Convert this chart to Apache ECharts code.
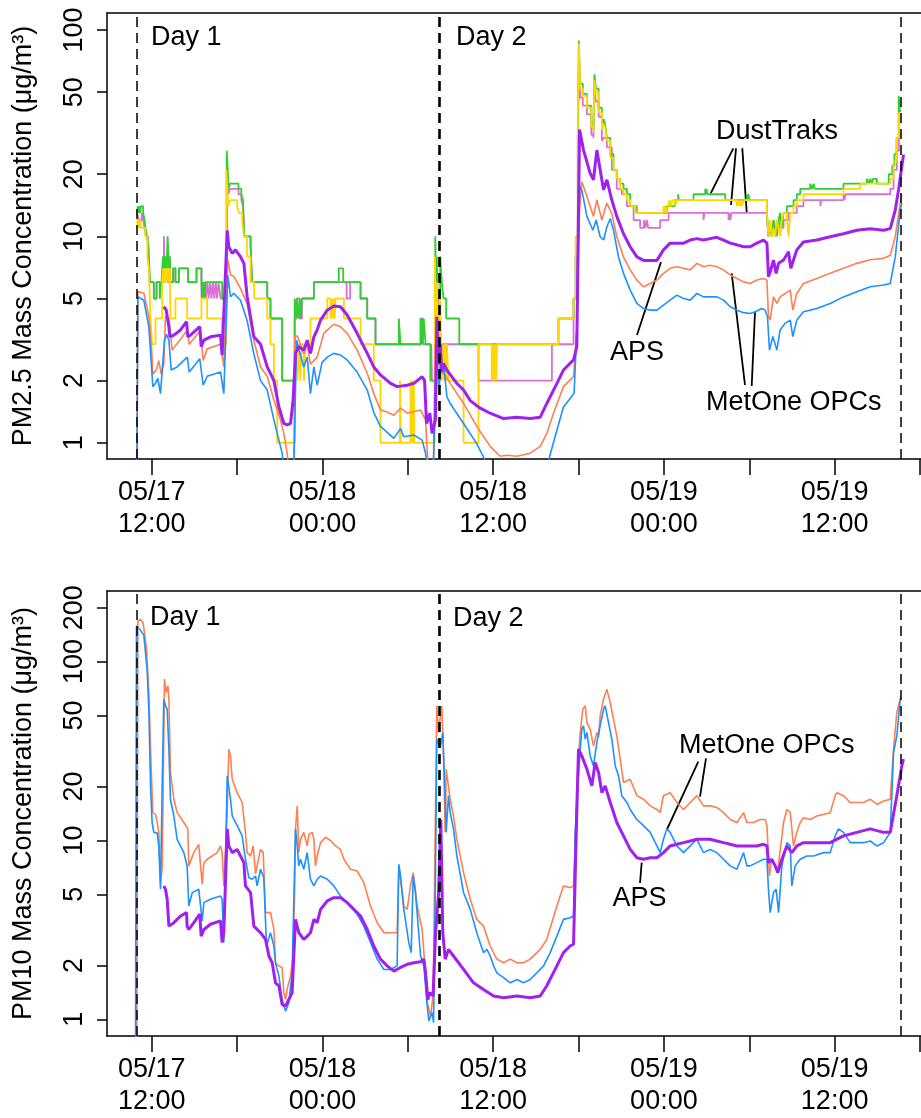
<!DOCTYPE html>
<html><head><meta charset="utf-8">
<script src="https://cdn.jsdelivr.net/npm/echarts@6/dist/echarts.min.js"></script>
<style>html,body{margin:0;padding:0;background:#fff}#c{width:921px;height:1118px}</style>
</head><body><div id="c"></div>
<script>
// x values: hours since 05/17 00:00
const xTickHours = [12,18,24,30,36,42,48,54,60,66];
const xLabelHours = [12,24,36,48,60];
const xLabelText = ['05/17\n12:00','05/18\n00:00','05/18\n12:00','05/19\n00:00','05/19\n12:00'];
const pm25Ticks = [1,2,5,10,20,50,100];
const pm10Ticks = [1,2,5,10,20,50,100,200];
const dayLines = [10.94, 32.23, 64.65];

// ---------- PM2.5 ----------
const pm25Blue = [[10.95,0.5],[11.03,5.1],[11.14,5.2],[11.45,4.9],[11.80,3.65],[11.99,2.33],[12.08,1.87],[12.27,1.94],[12.43,2.05],[12.62,1.73],[12.74,1.70],[12.90,3.14],[13.04,3.35],[13.21,3.14],[13.37,2.25],[13.79,2.33],[14.50,2.6],[14.64,2.2],[15.38,2.55],[15.62,1.9],[15.90,2.1],[16.84,2.2],[17.07,1.73],[17.35,6.5],[17.54,5.1],[17.77,5.3],[18.24,4.9],[18.71,3.9],[19.18,2.7],[19.65,2.0],[20.12,1.8],[20.59,1.29],[20.82,1.11],[21.17,0.89],[21.29,0.75],[21.99,0.75],[22.18,3.14],[22.69,2.33],[22.93,2.6],[23.16,1.73],[23.40,2.33],[23.63,1.9],[23.98,2.45],[24.34,2.6],[24.80,2.71],[25.27,2.66],[25.74,2.52],[26.44,2.2],[27.15,1.8],[27.61,1.4],[28.08,1.2],[29.02,1.05],[29.49,1.17],[29.72,1.07],[30.43,1.09],[31.01,1.03],[31.25,0.89],[31.37,0.75],[31.80,0.75],[31.95,2.0],[32.05,2.6],[32.20,1.8],[32.30,2.3],[32.51,2.42],[32.75,1.67],[32.98,1.55],[33.92,1.24],[34.85,0.99],[35.44,0.82],[35.6,0.75],[39.77,0.75],[39.89,0.82],[40.48,1.15],[40.94,1.49],[41.41,1.64],[41.69,1.74],[41.88,3.52],[42.00,10.7],[42.07,17.4],[42.23,16.8],[42.59,12.5],[43.01,10.7],[43.24,12.0],[43.52,9.96],[43.76,9.6],[43.99,11.1],[44.23,12.2],[44.46,10.7],[44.81,7.95],[45.16,6.62],[45.63,5.49],[46.10,4.73],[46.57,4.47],[47.04,4.39],[47.51,4.39],[47.97,4.64],[48.44,4.91],[48.91,5.19],[49.38,5.0],[49.85,4.91],[50.32,5.29],[50.78,5.09],[51.25,5.09],[51.72,5.09],[52.19,4.91],[52.66,4.56],[53.13,4.39],[53.60,4.27],[54.06,4.23],[54.42,4.31],[54.88,4.47],[55.12,4.39],[55.28,4.08],[55.42,2.81],[55.66,3.27],[55.94,2.81],[56.17,3.52],[56.52,3.79],[56.88,3.93],[57.06,3.27],[57.34,3.93],[57.81,4.31],[58.28,4.39],[58.75,4.47],[59.69,4.73],[60.62,5.09],[61.56,5.39],[62.50,5.70],[63.44,5.81],[63.91,5.91],[64.26,7.95],[64.61,13.4],[64.72,14.5]];

const pm25Coral = [[10.95,0.5],[11.03,5.4],[11.10,5.45],[11.45,5.3],[11.80,4.1],[11.99,2.9],[12.08,2.15],[12.32,2.25],[12.50,2.5],[12.67,2.15],[12.85,2.4],[12.97,4.1],[13.21,4.0],[13.44,2.81],[14.49,3.5],[14.64,3.0],[15.43,3.5],[15.62,2.5],[15.90,2.85],[16.84,3.0],[17.07,2.33],[17.35,7.7],[17.54,6.5],[17.77,6.4],[18.24,5.6],[18.71,4.7],[19.18,3.14],[19.65,2.33],[20.12,2.1],[20.59,1.61],[21.05,1.29],[21.29,1.11],[21.52,0.89],[21.64,0.75],[22.00,0.75],[22.06,3.25],[22.23,3.3],[22.69,2.7],[22.93,3.0],[23.16,2.4],[23.63,2.6],[24.10,3.4],[24.80,3.75],[25.27,3.65],[25.74,3.39],[26.44,2.81],[27.15,2.17],[27.61,1.73],[28.08,1.44],[28.55,1.41],[29.02,1.36],[29.49,1.47],[29.96,1.39],[30.90,1.44],[31.25,1.29],[31.37,0.89],[31.48,0.75],[31.80,0.75],[31.93,3.0],[32.10,2.6],[32.30,2.2],[32.51,2.17],[32.98,1.94],[33.92,1.55],[34.85,1.2],[35.79,0.96],[36.49,0.86],[36.96,0.87],[37.67,0.86],[38.60,0.89],[39.31,0.96],[39.77,1.11],[40.24,1.39],[40.94,1.87],[41.65,2.09],[41.88,3.52],[42.07,13.4],[42.23,18.4],[42.59,15.6],[43.05,12.5],[43.29,15.0],[43.64,12.0],[43.99,14.5],[44.34,12.9],[44.69,9.96],[45.16,7.95],[45.63,6.88],[46.10,6.14],[46.57,5.70],[47.04,5.91],[47.51,6.14],[47.97,6.62],[48.44,7.0],[48.91,7.13],[49.38,7.0],[49.85,6.88],[50.32,7.4],[50.78,7.13],[51.25,7.25],[51.72,7.13],[52.19,6.88],[52.66,6.5],[53.13,6.25],[53.60,6.02],[54.06,5.91],[54.53,6.14],[55.00,6.25],[55.24,6.14],[55.35,4.08],[55.47,3.93],[55.70,5.09],[55.94,4.73],[56.17,5.09],[56.88,5.49],[57.06,4.39],[57.34,5.29],[57.81,5.91],[58.75,6.25],[59.69,6.62],[60.62,7.0],[61.56,7.4],[62.50,7.7],[63.44,7.83],[63.91,8.1],[64.26,9.96],[64.61,14.5],[64.72,16]];

const pm25Aps = [[12.85,4.56],[13.02,4.4],[13.21,3.65],[13.28,3.26],[13.56,3.32],[14.03,3.52],[14.45,3.86],[14.54,3.26],[14.73,3.32],[15.38,3.65],[15.48,2.92],[15.67,3.14],[16.13,3.26],[16.84,3.32],[16.95,2.66],[17.07,2.71],[17.31,10.7],[17.42,8.91],[17.66,8.27],[17.89,8.6],[18.24,7.97],[18.48,7.4],[18.71,5.1],[19.18,3.26],[19.65,3.0],[20.12,2.33],[20.59,2.0],[20.94,1.49],[21.29,1.24],[21.52,1.22],[21.76,1.24],[21.94,1.61],[22.11,2.71],[22.34,2.92],[22.69,2.81],[22.93,3.14],[23.16,2.71],[23.40,3.26],[23.63,3.52],[23.87,3.93],[24.34,4.39],[24.80,4.6],[25.27,4.56],[25.74,4.16],[26.44,3.39],[27.15,2.71],[27.61,2.33],[28.08,2.13],[28.79,1.94],[29.25,1.87],[29.96,1.90],[30.43,1.94],[31.01,2.09],[31.18,2.0],[31.32,1.24],[31.55,1.39],[31.71,1.11],[31.95,1.3],[32.04,4.08],[32.16,2.4],[32.28,3.0],[32.39,2.2],[32.51,2.42],[32.75,2.25],[33.45,1.94],[33.92,1.8],[34.39,1.6],[35.09,1.47],[35.79,1.39],[36.73,1.31],[37.67,1.33],[38.60,1.31],[39.31,1.33],[39.77,1.55],[40.48,1.94],[40.94,2.25],[41.65,2.52],[41.88,2.92],[42.07,32.9],[42.16,30.6],[42.35,26.2],[42.82,20.2],[43.05,18.8],[43.29,26.2],[43.52,21.0],[43.76,16.8],[43.99,18.8],[44.34,15.0],[44.69,12.5],[45.16,10.3],[45.63,8.91],[46.10,7.95],[46.57,7.65],[47.04,7.65],[47.51,7.65],[47.97,8.6],[48.44,9.27],[48.91,9.27],[49.38,9.27],[49.85,9.6],[50.32,9.75],[50.78,9.6],[51.25,9.75],[51.72,9.9],[52.19,9.6],[52.66,9.27],[53.13,9.1],[53.60,8.91],[54.06,8.91],[54.53,9.27],[55.00,9.6],[55.24,9.27],[55.35,6.38],[55.51,6.87],[55.70,7.68],[55.89,6.62],[56.06,7.4],[56.41,7.68],[56.76,8.43],[56.92,7.0],[57.11,7.68],[57.34,8.6],[57.81,9.4],[58.75,9.6],[59.69,9.96],[60.62,10.3],[61.56,10.7],[62.50,10.9],[63.44,10.7],[63.91,10.9],[64.26,13.4],[64.49,16.8],[64.84,24.9]];

// DustTraks (held steps)
const pm25Green = [[10.98,13],[11.03,14],[11.08,13],[11.13,14],[11.20,13],[11.25,14],[11.40,13],[11.50,12],[11.57,11],[11.66,10],[11.78,9],[11.88,6],[12.15,5],[12.34,6],[12.57,5],[12.69,6],[12.74,7],[12.80,8],[12.85,6],[12.90,8],[12.95,7],[13.00,8],[13.05,7],[13.12,10],[13.18,8],[13.22,7],[13.28,8],[13.32,6],[13.51,7],[13.67,6],[13.91,7],[14.56,6],[15.15,7],[15.50,6],[15.55,5],[15.59,6],[15.63,5],[15.67,6],[15.72,5],[15.76,6],[16.95,5],[17.28,26],[17.40,17],[17.50,18],[18.10,17],[18.30,16],[18.42,15],[18.50,10],[18.95,9],[19.06,6],[20.12,5],[20.35,4],[21.17,2],[22.05,5],[22.12,4],[22.20,5],[22.30,4],[22.40,5],[22.50,4],[22.56,5],[23.40,6],[25.15,7],[25.46,6],[26.68,5],[27.15,4],[27.73,3],[29.37,4],[29.49,3],[30.90,4],[30.95,3],[31.00,4],[31.05,3],[31.12,4],[31.25,3],[31.60,2],[31.93,10],[32.00,5],[32.04,8],[32.10,5],[32.28,8],[32.39,6],[32.51,5],[32.70,4],[33.62,3],[40.59,4],[41.65,5],[41.80,8],[41.95,30],[42.02,89],[42.10,55],[42.30,49],[42.59,43],[42.90,35],[43.05,33],[43.12,61],[43.22,52],[43.41,42],[43.64,34],[43.76,37],[43.87,35],[43.99,30],[44.23,25],[44.46,21],[44.69,19],[44.93,18],[45.16,17],[45.40,16],[45.63,14],[46.10,13],[48.21,14],[48.79,15],[49.00,16],[49.05,15],[50.08,16],[50.90,17],[50.95,16],[51.00,17],[51.05,16],[52.31,15],[53.83,16],[53.88,15],[53.95,16],[54.00,15],[55.24,13],[55.35,10],[55.47,11],[55.60,10],[55.70,12],[55.82,11],[55.94,10],[56.06,12],[56.17,13],[56.29,11],[56.41,13],[56.64,14],[57.11,15],[57.34,16],[57.58,17],[58.28,18],[58.40,17],[58.52,18],[58.60,17],[60.62,18],[62.26,19],[62.40,18],[62.50,19],[62.60,18],[62.70,19],[62.97,18],[63.80,20],[64.05,22],[64.20,25],[64.35,30],[64.50,48],[64.60,40]];

const pm25Orchid = [[10.98,13],[11.10,12],[11.30,13],[11.40,12],[11.50,11],[11.60,10],[11.75,8],[11.88,6],[12.15,5],[12.34,6],[12.57,5],[12.69,6],[12.86,10],[12.92,6],[12.97,7],[13.05,8],[13.12,6],[13.51,7],[13.67,6],[13.91,7],[14.56,6],[15.15,7],[15.50,5],[15.60,6],[15.65,5],[15.72,6],[15.80,5],[15.90,6],[16.00,5],[16.10,6],[16.20,5],[16.30,6],[16.40,5],[16.50,6],[16.60,5],[16.70,6],[16.84,5],[17.28,24],[17.40,16],[17.50,17],[18.10,16],[18.30,15],[18.42,14],[18.50,10],[18.95,9],[19.06,6],[20.12,5],[20.35,4],[21.17,2],[22.05,4],[22.20,5],[22.40,4],[22.56,5],[23.40,6],[25.70,5],[25.95,6],[26.68,5],[27.15,4],[27.73,3],[30.90,4],[31.05,3],[31.60,2],[31.65,3],[31.70,2],[31.93,8],[32.04,3],[32.16,5],[32.28,2],[32.40,3],[34.97,2],[40.13,3],[41.65,5],[41.80,8],[41.95,30],[42.04,70],[42.12,47],[42.30,43],[42.59,39],[42.90,31],[43.05,30],[43.12,51],[43.22,45],[43.41,38],[43.64,29],[43.76,30],[43.99,27],[44.34,21],[44.69,17],[45.04,16],[45.40,14],[45.87,12],[46.33,11],[46.60,12],[46.70,11],[46.80,12],[46.90,11],[47.74,12],[48.33,13],[50.78,12],[50.85,13],[52.54,12],[52.60,13],[52.66,12],[52.75,13],[55.24,12],[55.35,10],[55.47,11],[55.60,10],[55.70,12],[55.82,10],[55.94,11],[56.06,12],[56.17,11],[56.41,12],[56.76,13],[57.34,14],[57.81,15],[59.00,14],[59.05,15],[60.62,16],[60.70,15],[60.75,16],[63.91,17],[64.14,21],[64.37,26],[64.52,33],[64.60,30]];

const pm25Gold = [[10.98,12],[11.03,11],[11.08,12],[11.13,11],[11.20,12],[11.25,11],[11.55,10],[11.70,8],[11.80,7],[11.92,4],[12.03,3],[12.27,4],[12.74,6],[12.80,7],[12.85,6],[12.90,7],[12.95,6],[13.00,7],[13.05,6],[13.12,7],[13.20,6],[13.28,7],[13.32,4],[13.67,5],[14.49,4],[15.50,5],[15.90,4],[16.95,3],[17.25,21],[17.38,14],[17.50,15],[18.01,14],[18.13,13],[18.36,12],[18.48,10],[18.70,8],[18.95,6],[19.20,5],[20.12,4],[20.35,3],[20.59,2],[20.82,1],[22.08,2],[22.15,3],[22.25,2],[22.35,3],[22.45,2],[22.55,3],[22.70,2],[22.80,3],[23.16,4],[24.34,5],[24.57,4],[24.62,5],[24.67,4],[24.72,5],[24.77,4],[24.82,5],[24.87,4],[24.92,5],[25.51,4],[26.68,3],[27.61,2],[28.08,1],[29.45,2],[29.52,1],[30.19,2],[30.22,1],[30.26,2],[30.30,1],[30.34,2],[30.38,1],[30.42,2],[30.46,1],[31.90,8],[32.00,3],[32.05,6],[32.16,3],[32.28,5],[32.39,2],[32.51,3],[32.56,2],[32.63,3],[32.70,2],[32.75,3],[32.86,2],[33.92,1],[34.97,3],[35.91,2],[35.95,3],[35.99,2],[36.03,3],[36.07,2],[36.11,3],[36.15,2],[36.19,3],[36.23,2],[36.27,3],[40.59,4],[41.65,5],[41.80,10],[41.95,40],[42.04,86],[42.10,52],[42.30,48],[42.59,42],[42.90,34],[43.05,32],[43.12,57],[43.22,50],[43.41,40],[43.64,33],[43.76,35],[43.87,34],[43.99,29],[44.23,24],[44.46,21],[44.69,19],[44.93,17],[45.16,16],[45.40,15],[45.63,14],[46.00,13],[47.97,14],[48.05,13],[48.10,14],[48.20,13],[48.30,14],[48.40,15],[48.50,14],[48.60,15],[48.79,14],[48.90,15],[53.13,14],[53.20,15],[53.30,14],[53.40,15],[53.50,14],[53.60,15],[55.24,13],[55.35,10],[55.47,12],[55.58,10],[55.70,11],[55.82,10],[55.94,12],[56.06,11],[56.17,10],[56.29,12],[56.41,13],[56.64,12],[56.76,10],[56.88,13],[57.11,14],[57.34,15],[57.81,16],[60.62,17],[61.80,18],[63.91,19],[64.14,23],[64.37,30],[64.52,40],[64.60,35]];

// ---------- PM10 ----------
const pm10Coral = [[10.95,0.5],[11.03,168],[11.21,172],[11.40,165],[11.64,117],[11.80,67],[11.96,26],[12.08,14.3],[12.27,14],[12.39,12.6],[12.50,11.1],[12.62,5.8],[12.74,7.0],[12.90,79.8],[13.02,67.2],[13.14,73.2],[13.21,61.6],[13.32,24.0],[13.56,17.0],[13.79,14.3],[14.26,12.6],[14.54,11.6],[14.61,7.21],[14.96,8.55],[15.31,9.5],[15.43,9.3],[15.55,5.69],[15.67,7.5],[15.90,7.85],[16.60,8.55],[16.84,9.32],[16.95,8.55],[17.07,5.57],[17.31,14.3],[17.42,32.4],[17.54,29.7],[17.66,22.0],[18.01,18.5],[18.36,16.3],[18.59,11.1],[18.71,8.55],[18.95,8.19],[19.13,9.32],[19.30,6.5],[19.41,7.21],[19.65,8.91],[19.84,8.55],[20.00,3.95],[20.35,3.95],[20.59,3.18],[20.70,2.07],[20.94,1.99],[21.17,1.95],[21.29,1.41],[21.41,1.29],[21.52,1.47],[21.76,1.75],[21.92,2.17],[22.04,4.69],[22.11,11.6],[22.23,15.6],[22.34,8.55],[22.46,10.15],[22.69,11.1],[22.93,9.32],[23.05,10.8],[23.16,10.6],[23.28,11.1],[23.40,10.15],[23.51,7.21],[23.63,8.19],[23.87,9.72],[24.22,10.4],[24.57,10.0],[24.92,9.32],[25.27,8.91],[25.51,7.85],[25.97,6.9],[26.44,6.75],[26.91,5.81],[27.38,4.3],[27.85,3.47],[28.32,3.05],[28.79,3.05],[29.25,3.05],[29.37,7.21],[29.49,7.21],[29.61,5.11],[29.72,4.3],[29.96,4.12],[30.19,5.6],[30.38,6.61],[30.50,5.57],[30.66,4.3],[31.01,3.18],[31.13,2.36],[31.37,1.24],[31.60,1.04],[31.75,1.3],[31.81,1.99],[32.04,56.6],[32.16,40],[32.23,45],[32.39,56.6],[32.51,30],[32.63,11.1],[32.70,25.0],[32.98,17.0],[33.21,13.7],[33.45,10.15],[33.92,6.61],[34.39,4.69],[34.85,3.62],[35.32,3.32],[35.79,2.57],[36.26,2.17],[36.73,2.07],[37.20,2.17],[37.67,2.07],[38.13,2.07],[38.60,2.17],[39.31,2.46],[39.77,2.80],[40.48,4.3],[40.94,5.57],[41.41,5.45],[41.65,5.57],[41.84,13.7],[41.88,20.2],[42.00,30],[42.12,40.1],[42.30,54.2],[42.47,56.6],[42.59,45.6],[42.82,41.8],[43.05,33.8],[43.29,40.1],[43.41,38.0],[43.52,49.7],[43.76,61.6],[43.99,70.1],[44.23,59.0],[44.46,47.6],[44.69,38.4],[44.93,28.5],[45.16,21.1],[45.63,22.0],[46.10,17.8],[46.57,17.0],[47.04,15.6],[47.51,14.9],[47.74,14.3],[47.97,17.8],[48.44,18.5],[48.91,16.3],[49.38,14.9],[49.85,16.3],[50.32,17.8],[50.78,15.6],[51.25,15.6],[51.72,15.3],[52.19,14.3],[52.66,13.1],[53.13,12.6],[53.60,14.3],[53.83,12.6],[54.30,12.6],[54.77,13.1],[55.12,13.1],[55.24,12.1],[55.42,6.33],[55.58,7.85],[55.82,7.21],[56.01,6.90],[56.41,12.6],[56.64,14.9],[56.88,14.3],[57.11,9.32],[57.34,11.1],[57.58,12.6],[57.81,13.4],[58.28,13.1],[58.75,13.7],[59.69,14.3],[60.04,17.8],[60.16,18.5],[60.62,17.8],[61.09,16.3],[61.56,16.3],[62.03,16.3],[62.50,17.0],[62.97,15.9],[63.44,16.6],[63.91,17.0],[64.14,32.4],[64.37,51.9],[64.61,61.6],[64.65,64]];

const pm10Blue = [[10.86,0.5],[10.93,158],[11.03,158],[11.21,150],[11.45,140],[11.68,90],[11.80,54.2],[11.92,20.2],[12.03,12.6],[12.15,11.1],[12.39,11.0],[12.50,9.32],[12.62,5.33],[12.74,20],[12.85,61.6],[12.97,56.6],[13.09,54.2],[13.21,32.4],[13.32,17.0],[13.56,13.7],[13.79,10.15],[14.26,8.55],[14.49,7.21],[14.61,4.3],[14.85,5.11],[15.31,5.33],[15.43,5.45],[15.55,3.55],[15.67,4.49],[16.13,4.69],[16.84,4.89],[16.95,4.69],[17.07,2.69],[17.31,23.0],[17.54,17.0],[17.66,13.7],[18.01,12.1],[18.36,10.6],[18.59,7.85],[18.83,6.19],[19.06,6.07],[19.30,6.33],[19.41,5.57],[19.65,6.9],[19.88,6.19],[20.07,2.57],[20.35,3.05],[20.59,2.57],[20.70,2.07],[20.94,1.75],[21.17,1.29],[21.41,1.11],[21.64,1.24],[21.87,1.82],[22.11,11.6],[22.23,9.32],[22.34,7.21],[22.46,7.85],[22.69,6.9],[22.93,8.55],[23.16,6.07],[23.40,5.57],[23.63,6.07],[23.87,6.33],[24.34,6.07],[24.80,5.57],[25.27,4.89],[25.51,4.69],[25.97,4.3],[26.44,3.87],[26.91,3.32],[27.38,2.69],[27.85,2.17],[28.32,1.90],[28.79,1.90],[29.25,1.99],[29.37,7.36],[29.49,6.33],[29.72,4.12],[30.07,2.69],[30.24,2.36],[30.38,6.33],[30.54,5.11],[30.90,2.26],[31.13,1.99],[31.32,1.29],[31.48,0.98],[31.71,1.09],[31.81,0.96],[31.93,4.69],[32.04,36.8],[32.28,33],[32.46,40.1],[32.63,17],[32.70,11.1],[32.86,17.8],[32.98,14.3],[33.21,11.6],[33.45,8.19],[33.92,5.11],[34.39,4.12],[34.85,3.05],[35.32,2.36],[35.56,2.46],[35.79,2.26],[36.03,1.99],[36.26,1.82],[36.73,1.71],[37.20,1.60],[37.67,1.67],[38.13,1.60],[38.60,1.67],[39.07,1.82],[39.54,1.99],[40.01,2.36],[40.48,2.92],[40.94,3.62],[41.41,3.70],[41.65,3.78],[41.77,11.1],[41.88,17.0],[42.07,28.5],[42.23,41.8],[42.35,43.7],[42.47,36.8],[42.59,40.1],[42.82,29.7],[43.05,26.1],[43.29,35.3],[43.52,43.7],[43.76,54.2],[43.87,56.6],[44.11,45.6],[44.34,36.8],[44.58,26.1],[44.81,23.0],[45.04,17.8],[45.40,16.3],[45.63,14.9],[46.10,13.1],[46.57,12.1],[47.04,11.1],[47.51,9.32],[47.74,8.55],[47.97,10.15],[48.21,11.6],[48.44,11.1],[48.91,9.32],[49.38,8.55],[49.85,9.32],[50.32,10.15],[50.78,8.55],[51.25,8.91],[51.72,8.55],[52.19,7.85],[52.66,7.21],[53.13,6.90],[53.60,8.55],[53.83,7.21],[54.06,7.21],[54.53,7.52],[55.00,7.85],[55.24,7.85],[55.35,5.33],[55.47,3.95],[55.70,5.11],[55.89,5.33],[56.06,3.95],[56.29,7.21],[56.64,9.72],[56.88,9.32],[56.99,5.57],[57.23,7.21],[57.58,7.85],[58.05,8.19],[58.52,8.19],[59.22,8.55],[59.69,8.55],[60.04,10.6],[60.27,11.6],[60.62,11.1],[61.09,9.72],[61.56,9.72],[62.03,9.72],[62.50,9.93],[62.97,9.32],[63.44,9.72],[63.91,11.1],[64.14,31.0],[64.37,38.4],[64.61,61.6]];

const pm10Aps = [[12.85,5.57],[12.97,5.33],[13.09,4.69],[13.21,3.32],[13.56,3.47],[14.03,3.78],[14.45,3.95],[14.49,3.32],[14.61,3.18],[14.96,3.47],[15.38,3.87],[15.48,2.92],[15.67,3.18],[16.13,3.40],[16.84,3.55],[16.95,2.69],[17.07,3.05],[17.31,11.6],[17.42,9.32],[17.66,8.55],[18.01,8.91],[18.24,8.19],[18.48,7.52],[18.59,5.57],[18.95,5.11],[19.18,3.32],[19.65,3.05],[20.00,2.80],[20.24,2.26],[20.47,2.07],[20.70,1.60],[20.94,1.54],[21.17,1.21],[21.41,1.19],[21.64,1.29],[21.87,1.41],[22.11,3.62],[22.34,3.05],[22.69,2.80],[22.93,2.92],[23.16,3.05],[23.40,3.62],[23.63,3.47],[23.87,4.12],[24.34,4.59],[24.80,4.79],[25.27,4.79],[25.74,4.49],[26.21,4.12],[26.68,3.78],[27.15,3.18],[27.61,2.57],[28.08,2.17],[28.55,1.99],[29.02,1.86],[29.49,1.95],[29.96,2.03],[30.43,2.07],[30.90,2.10],[31.13,2.17],[31.25,1.82],[31.41,1.29],[31.55,1.41],[31.78,1.35],[31.95,3.0],[32.16,5.0],[32.32,13.1],[32.46,3.05],[32.63,2.17],[32.86,2.46],[33.21,2.26],[33.92,1.90],[34.62,1.60],[35.32,1.47],[36.03,1.35],[36.73,1.32],[37.67,1.35],[38.60,1.32],[39.31,1.35],[39.77,1.54],[40.48,1.99],[40.94,2.36],[41.41,2.57],[41.65,2.63],[41.84,11.1],[42.00,32.4],[42.23,29.7],[42.59,25.0],[42.94,20.2],[43.17,27.3],[43.41,24.0],[43.64,18.5],[43.87,20.2],[44.23,16.3],[44.69,12.6],[45.16,10.6],[45.63,8.91],[46.10,8.0],[46.57,7.85],[47.04,8.0],[47.51,8.0],[47.97,8.55],[48.44,9.32],[48.91,9.52],[49.38,9.72],[49.85,9.93],[50.32,10.15],[51.25,10.15],[51.72,9.93],[52.19,9.72],[52.66,9.52],[53.13,9.32],[54.06,9.32],[54.53,9.32],[55.00,9.52],[55.24,9.32],[55.35,7.52],[55.58,7.85],[55.82,7.21],[56.01,6.61],[56.29,7.85],[56.64,9.32],[56.99,8.55],[57.34,9.32],[57.81,9.72],[58.75,9.72],[59.69,9.72],[60.62,10.6],[61.56,11.1],[62.50,11.6],[63.44,11.1],[63.91,11.1],[64.37,17.8],[64.72,26.1],[64.84,28.5]];

// ---------- chart ----------
const FONT = '"Liberation Sans", Arial, Helvetica, sans-serif';
const FS = 27;
const chart = echarts.init(document.getElementById('c'), null, {renderer: 'canvas'});

function xAxes(gridIndex) {
  return [{
    type: 'value', gridIndex, min: 8.86, max: 66.07, position: 'bottom',
    axisLine: {show: true, onZero: false, lineStyle: {color: '#000', width: 1.5}},
    axisTick: {show: true, customValues: xTickHours, length: 16, lineStyle: {color: '#000', width: 1.5}},
    axisLabel: {show: true, customValues: xLabelHours, margin: 18, fontSize: FS, fontFamily: FONT, color: '#000', lineHeight: 32,
      formatter: v => xLabelText[xLabelHours.indexOf(Math.round(v))] || ''},
    splitLine: {show: false}
  }, {
    type: 'value', gridIndex, min: 8.86, max: 66.07, position: 'top',
    axisLine: {show: true, onZero: false, lineStyle: {color: '#000', width: 1.5}},
    axisTick: {show: false}, axisLabel: {show: false}, splitLine: {show: false}
  }];
}
function yAxis(gridIndex, min, max, ticks, name) {
  return {
    type: 'log', logBase: 10, gridIndex, min, max,
    name, nameLocation: 'middle', nameRotate: 90, nameGap: 70,
    nameTextStyle: {fontSize: FS, fontFamily: FONT, color: '#000'},
    axisLine: {show: true, onZero: false, lineStyle: {color: '#000', width: 1.5}},
    axisTick: {show: true, customValues: ticks, length: 10, lineStyle: {color: '#000', width: 1.5}},
    axisLabel: {show: true, customValues: ticks, rotate: 90, margin: 19, fontSize: FS, fontFamily: FONT, color: '#000',
      formatter: v => String(Math.round(v))},
    splitLine: {show: false}, minorTick: {show: false}
  };
}
function line(data, color, width, xi, yi, step, extra) {
  return Object.assign({
    type: 'line', data, xAxisIndex: xi, yAxisIndex: yi, showSymbol: false, symbol: 'none',
    step: step ? 'end' : false, clip: true, animation: false, silent: true,
    lineStyle: {color, width}, emphasis: {disabled: true}
  }, extra || {});
}
function dayMarks() {
  return {
    symbol: 'none', silent: true, animation: false, label: {show: false},
    data: [
      {xAxis: dayLines[0], lineStyle: {color: '#000', width: 1.5, type: [10, 6]}},
      {xAxis: dayLines[1], lineStyle: {color: '#000', width: 2.6, type: [10, 6]}},
      {xAxis: dayLines[2], lineStyle: {color: '#000', width: 1.5, type: [10, 6]}}
    ]
  };
}

const C = {blue: '#1E90FF', coral: '#FF7F50', purple: '#A020F0', green: '#32CD32', gold: '#FFD700', orchid: '#DA70D6'};

function txt(text, x, y) {
  return {type: 'text', silent: true, style: {text, x, y, font: FS + 'px ' + FONT, fill: '#000',
    textAlign: 'left', textVerticalAlign: 'middle', align: 'left', verticalAlign: 'middle'}};
}
function seg(x1, y1, x2, y2) {
  return {type: 'line', silent: true, shape: {x1, y1, x2, y2}, style: {stroke: '#000', lineWidth: 1.8}};
}

chart.setOption({
  backgroundColor: '#fff',
  animation: false,
  grid: [
    {left: 107, right: 0, top: 13, height: 446, containLabel: false},
    {left: 107, right: 0, top: 591, height: 446, containLabel: false}
  ],
  xAxis: [...xAxes(0), ...xAxes(1)],
  yAxis: [
    yAxis(0, 0.834, 120.9, pm25Ticks, 'PM2.5 Mass Concentration (μg/m³)'),
    yAxis(1, 0.807, 248, pm10Ticks, 'PM10 Mass Concentration (μg/m³)')
  ],
  series: [
    line(pm25Orchid, C.orchid, 1.8, 0, 0, true),
    line(pm25Green, C.green, 1.8, 0, 0, true),
    line(pm25Gold, C.gold, 1.8, 0, 0, true),
    line(pm25Coral, C.coral, 1.6, 0, 0, false),
    line(pm25Blue, C.blue, 1.6, 0, 0, false),
    line(pm25Aps, C.purple, 3, 0, 0, false, {markLine: dayMarks()}),
    line(pm10Coral, C.coral, 1.6, 2, 1, false),
    line(pm10Blue, C.blue, 1.6, 2, 1, false),
    line(pm10Aps, C.purple, 3, 2, 1, false, {markLine: dayMarks()})
  ],
  graphic: [
    txt('Day 1', 151, 37.5), txt('Day 2', 456, 37.5),
    txt('DustTraks', 716, 131.7),
    seg(733.3, 148.3, 710.7, 193.3), seg(736, 148.3, 731, 205), seg(742.3, 148.3, 746.7, 212.3),
    txt('APS', 610, 352.5), seg(637, 335, 661, 262),
    txt('MetOne OPCs', 706, 403), seg(745, 385, 731.7, 273.3), seg(751.7, 386, 755, 311.7),
    txt('Day 1', 150, 618), txt('Day 2', 453, 618.5),
    txt('MetOne OPCs', 679, 745.2), seg(698.3, 761.7, 666.7, 830), seg(706, 758.3, 700, 796.7),
    txt('APS', 612.5, 898.3), seg(640, 883, 641.7, 862.7)
  ]
});
</script></body></html>
